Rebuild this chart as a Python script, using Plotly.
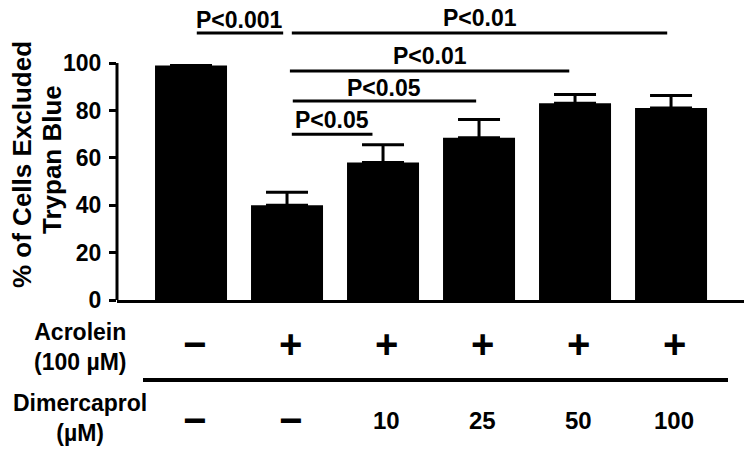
import plotly.graph_objects as go

# ---- data ----
groups = ["G1", "G2", "G3", "G4", "G5", "G6"]
pct_excluded = [99, 40, 58, 68.5, 83, 81]
sem = [0, 5.5, 7.5, 7.7, 3.7, 5.3]
acrolein_row = ["\u2212", "+", "+", "+", "+", "+"]
dimercaprol_row = ["\u2212", "\u2212", "10", "25", "50", "100"]
y_ticks = [0, 20, 40, 60, 80, 100]

# significance comparisons: (label, from group index, to group index)
sig_labels = ["P<0.001", "P<0.01", "P<0.01", "P<0.05", "P<0.05"]
sig_from = [0, 1, 1, 1, 1]
sig_to = [1, 5, 4, 3, 2]

# ---- layout constants ----
FONT = "Liberation Sans, Arial, sans-serif"
sig_line_y = [112.7, 112.7, 96.6, 84.0, 70.0]
sig_text_y = [118.3, 119.0, 102.9, 89.4, 76.1]
sig_inset = [(0.06, -0.04), (0.05, -0.04), (0.03, -0.06), (0.06, -0.03), (0.05, -0.11)]

x_idx = list(range(len(groups)))

fig = go.Figure()
fig.add_trace(go.Bar(
    x=x_idx, y=pct_excluded,
    marker=dict(color="black", line=dict(width=0)),
    error_y=dict(type="data", array=sem, arrayminus=[0] * len(sem), symmetric=False,
                 color="black", thickness=3, width=21, visible=True),
    showlegend=False, hoverinfo="skip",
))

shapes = []
annotations = []

# y-axis line only from 0 to 100
shapes.append(dict(type="line", xref="paper", yref="y", x0=0, x1=0, y0=0, y1=100,
                   line=dict(color="black", width=3)))

# significance brackets
for lab, a, b, ly, ty, (ia, ib) in zip(sig_labels, sig_from, sig_to, sig_line_y, sig_text_y, sig_inset):
    shapes.append(dict(type="line", xref="x", yref="y", x0=a + ia, x1=b + ib, y0=ly, y1=ly,
                       line=dict(color="black", width=3)))
    annotations.append(dict(x=(a + ia + b + ib) / 2, y=ty, xref="x", yref="y", text=lab,
                            showarrow=False, xanchor="center", yanchor="middle",
                            font=dict(family=FONT, size=23, color="black", weight="bold")))

# condition table below the axis
def py(p):
    return (300 - p) / 295.0

for i, (s1, s2) in enumerate(zip(acrolein_row, dimercaprol_row)):
    annotations.append(dict(x=i, y=py(344), xref="x", yref="paper", text=s1, showarrow=False,
                            xanchor="center", yanchor="middle", xshift=3,
                            font=dict(family=FONT, size=40, color="black", weight="bold")))
    big = s2 == "\u2212"
    annotations.append(dict(x=i, y=py(420), xref="x", yref="paper", text=s2, showarrow=False,
                            xanchor="center", yanchor="middle", xshift=3,
                            font=dict(family=FONT, size=40 if big else 24, color="black", weight="bold")))

annotations.append(dict(x=(80 - 117) / 627, y=py(347), xref="paper", yref="paper",
                        text="Acrolein<br>(100 \u00b5M)", showarrow=False, xanchor="center", yanchor="middle",
                        font=dict(family=FONT, size=23, color="black", weight="bold")))
annotations.append(dict(x=(80 - 117) / 627, y=py(418), xref="paper", yref="paper",
                        text="Dimercaprol<br>(\u00b5M)", showarrow=False, xanchor="center", yanchor="middle",
                        font=dict(family=FONT, size=23, color="black", weight="bold")))
shapes.append(dict(type="line", xref="paper", yref="paper", x0=(143 - 117) / 627, x1=(728 - 117) / 627,
                   y0=py(380), y1=py(380), line=dict(color="black", width=4)))

# y-axis title (two lines)
annotations.append(dict(x=(22 - 117) / 627, y=py(165), xref="paper", yref="paper",
                        text="% of Cells Excluded", textangle=-90, showarrow=False,
                        xanchor="center", yanchor="middle",
                        font=dict(family=FONT, size=26, color="black", weight="bold")))
annotations.append(dict(x=(52 - 117) / 627, y=py(160), xref="paper", yref="paper",
                        text="Trypan Blue", textangle=-90, showarrow=False,
                        xanchor="center", yanchor="middle",
                        font=dict(family=FONT, size=26, color="black", weight="bold")))

fig.update_layout(
    width=754, height=450,
    margin=dict(l=117, r=10, t=5, b=150),
    paper_bgcolor="white", plot_bgcolor="white",
    bargap=0.25,
    xaxis=dict(range=[-0.771, 5.76], showticklabels=False, ticks="", showgrid=False, zeroline=False,
               showline=True, linecolor="black", linewidth=3),
    yaxis=dict(range=[0, 124.5], tickvals=y_ticks, ticks="outside", ticklen=7, tickwidth=3,
               tickcolor="black", showgrid=False, zeroline=False, showline=False,
               ticklabelstandoff=3,
               tickfont=dict(family=FONT, size=23, color="black", weight="bold")),
    shapes=shapes, annotations=annotations,
)

fig.write_html("out.html", config={"displayModeBar": False},
               post_script="document.body.style.margin='0';document.body.style.padding='0';")
